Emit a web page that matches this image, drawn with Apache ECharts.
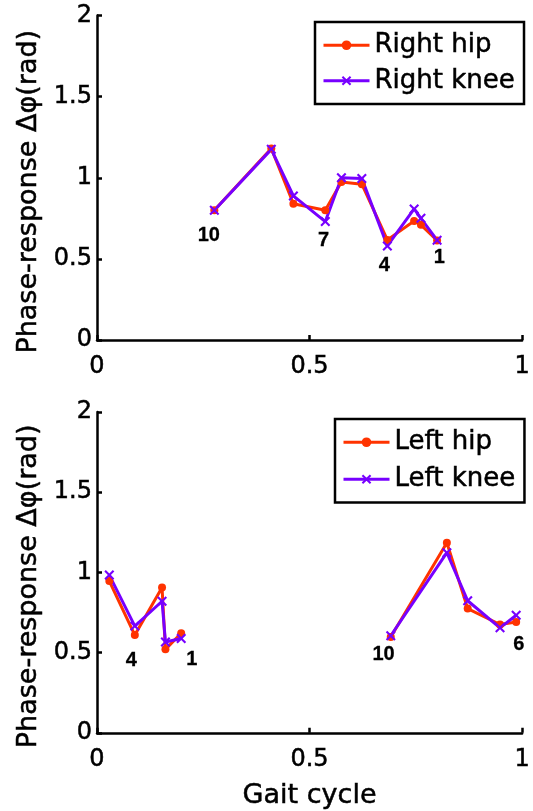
<!DOCTYPE html>
<html>
<head>
<meta charset="utf-8">
<script src="https://cdn.jsdelivr.net/npm/echarts@6/dist/echarts.min.js"></script>
<style>html,body{margin:0;padding:0;background:#fff;}#c{width:533px;height:811px;}</style>
</head>
<body>
<div id="c"></div>
<script>
// Points in gait index order 1..10
var rightX    = [0.800, 0.762, 0.746, 0.683, 0.623, 0.575, 0.537, 0.462, 0.410, 0.276];
var rightHip  = [0.613, 0.710, 0.734, 0.617, 0.960, 0.974, 0.800, 0.840, 1.180, 0.800];
var rightKnee = [0.615, 0.750, 0.808, 0.580, 0.995, 1.000, 0.730, 0.888, 1.175, 0.800];

var leftX     = [0.198, 0.161, 0.153, 0.089, 0.029, 0.986, 0.948, 0.872, 0.823, 0.691];
var leftHip   = [0.620, 0.520, 0.905, 0.609, 0.946, 0.690, 0.675, 0.774, 1.185, 0.597];
var leftKnee  = [0.588, 0.566, 0.820, 0.665, 0.983, 0.733, 0.654, 0.823, 1.123, 0.605];

// Index annotations
var topLabelText = ['1', '4', '7', '10'];
var topLabelX    = [0.805, 0.676, 0.533, 0.263];
var topLabelY    = [0.511, 0.462, 0.616, 0.647];
var botLabelText = ['1', '4', '6', '10'];
var botLabelX    = [0.223, 0.081, 0.992, 0.674];
var botLabelY    = [0.457, 0.450, 0.550, 0.488];

var xTicks = [0, 0.5, 1];
var yTicks = [0, 0.5, 1, 1.5, 2];
var yName = 'Phase-response Δφ(rad)';
var xName = 'Gait cycle';

var RED = '#ff3300', PURPLE = '#7700ff';
var XMARK = 'path://M0,1.5L1.5,0L5,3.5L8.5,0L10,1.5L6.5,5L10,8.5L8.5,10L5,6.5L1.5,10L0,8.5L3.5,5Z';
var FONT = 'DejaVu Sans';

function txt(size, extra) {
  var o = { color: '#000', fontFamily: FONT, fontSize: size, textBorderColor: '#000', textBorderWidth: 0.5 };
  for (var k in extra) o[k] = extra[k];
  return o;
}

// build data; break the line where the gait cycle wraps around (x jumps up)
function build(xs, ys) {
  var out = [];
  for (var i = 0; i < xs.length; i++) {
    if (i > 0 && xs[i] > xs[i - 1]) out.push('-');
    out.push([xs[i], ys[i]]);
  }
  return out;
}
function labels(xs, ys, ts) {
  return xs.map(function (x, i) { return [x, ys[i], ts[i]]; });
}

function xAxis(idx, withName) {
  return {
    type: 'value', gridIndex: idx, min: xTicks[0], max: xTicks[xTicks.length - 1], interval: 0.5,
    splitLine: { show: false },
    axisLine: { show: true, onZero: false, lineStyle: { color: '#000', width: 2.5 } },
    axisTick: { show: true, inside: true, length: 5, lineStyle: { color: '#000', width: 2.5 } },
    axisLabel: txt(24, { margin: 15 }),
    name: withName ? xName : '', nameLocation: 'middle', nameGap: 50,
    nameTextStyle: txt(27, {})
  };
}
function yAxis(idx) {
  return {
    type: 'value', gridIndex: idx, min: yTicks[0], max: yTicks[yTicks.length - 1], interval: 0.5,
    splitLine: { show: false },
    axisLine: { show: true, onZero: false, lineStyle: { color: '#000', width: 2.5 } },
    axisTick: { show: true, inside: true, length: 5, lineStyle: { color: '#000', width: 2.5 } },
    axisLabel: txt(24, { margin: 5 }),
    name: yName, nameLocation: 'middle', nameGap: 55,
    nameTextStyle: txt(27, { padding: [0, 28, 0, 0] })
  };
}
function lineSeries(name, idx, data, color, symbol, size) {
  return {
    name: name, type: 'line', xAxisIndex: idx, yAxisIndex: idx, data: data,
    symbol: symbol, symbolSize: size, showSymbol: true, connectNulls: false,
    lineStyle: { color: color, width: 3 }, itemStyle: { color: color },
    animation: false, silent: true
  };
}
function labelSeries(idx, data) {
  return {
    type: 'scatter', xAxisIndex: idx, yAxisIndex: idx, data: data,
    symbol: 'circle', symbolSize: 1, itemStyle: { color: 'rgba(0,0,0,0)', opacity: 1 },
    label: { show: true, position: 'inside', formatter: function (p) { return p.data[2]; },
      color: '#000', fontFamily: 'Liberation Sans', fontWeight: 'bold', fontSize: 20,
      textBorderColor: '#000', textBorderWidth: 0.3 },
    animation: false, silent: true
  };
}
function legend(names, left, top, gap) {
  return {
    data: names, orient: 'vertical', left: left, top: top,
    backgroundColor: '#fff', borderColor: '#000', borderWidth: 2.5,
    padding: [10, 9, 10, 7], itemGap: gap, itemWidth: 46, itemHeight: 12,
    lineStyle: { width: 3 },
    textStyle: txt(26, {}),
    selectedMode: false
  };
}

var chart = echarts.init(document.getElementById('c'), null, { renderer: 'canvas' });
chart.setOption({
  backgroundColor: '#fff',
  animation: false,
  grid: [
    { left: 97, top: 15.5, width: 431, height: 324.5 },
    { left: 97, top: 412, width: 431, height: 324 }
  ],
  xAxis: [xAxis(0, false), xAxis(1, true)],
  yAxis: [yAxis(0), yAxis(1)],
  legend: [
    legend(['Right hip', 'Right knee'], 315, 22, 9),
    legend(['Left hip', 'Left knee'], 335, 419, 10.5)
  ],
  series: [
    lineSeries('Right hip', 0, build(rightX, rightHip), RED, 'circle', 8),
    lineSeries('Right knee', 0, build(rightX, rightKnee), PURPLE, XMARK, 10),
    lineSeries('Left hip', 1, build(leftX, leftHip), RED, 'circle', 8),
    lineSeries('Left knee', 1, build(leftX, leftKnee), PURPLE, XMARK, 10),
    labelSeries(0, labels(topLabelX, topLabelY, topLabelText)),
    labelSeries(1, labels(botLabelX, botLabelY, botLabelText))
  ]
});
</script>
</body>
</html>
